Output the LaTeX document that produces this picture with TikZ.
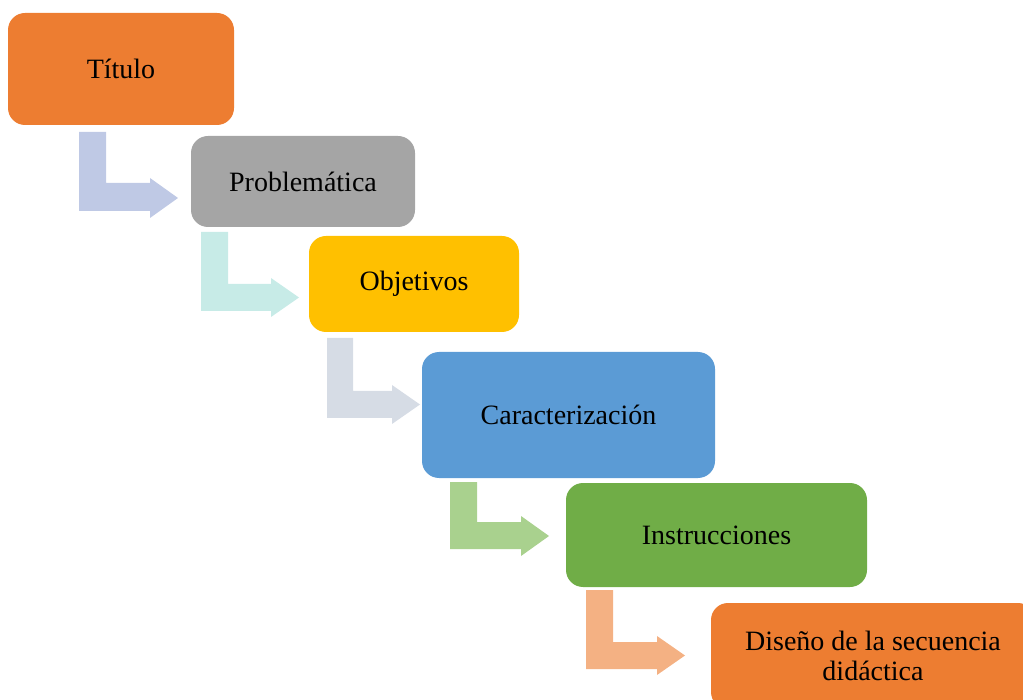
\documentclass[tikz,border=0pt]{standalone}
\usepackage{fontspec}
\setmainfont{Liberation Serif}
\definecolor{cOrange}{HTML}{ED7D31}
\definecolor{cGrey}{HTML}{A5A5A5}
\definecolor{cYellow}{HTML}{FFC000}
\definecolor{cBlue}{HTML}{5B9BD5}
\definecolor{cGreen}{HTML}{70AD47}
\definecolor{aOne}{RGB}{191,201,229}
\definecolor{aTwo}{RGB}{199,235,231}
\definecolor{aThree}{RGB}{214,220,229}
\definecolor{aFour}{RGB}{169,209,142}
\definecolor{aFive}{RGB}{244,177,131}
\tikzset{
  box/.style={rounded corners=17pt, inner sep=0pt, align=center, text=black,
    font=\fontsize{28}{30}\selectfont},
  bent/.style={draw=none},
}
% #1 colour, #2 x1, #3 x2, #4 ytop, #5 ybottom, #6 ybar, #7 xhead, #8 yheadtop, #9 yheadbottom; tip computed
\newcommand{\bentarrow}[9]{%
  \fill[#1] (#2,#4) -- (#3,#4) -- (#3,#6) -- (#7,#6) -- (#7,#8)
     -- ({#7+28},{(#8+#9)/2}) -- (#7,#9) -- (#7,#5) -- (#2,#5) -- cycle;}
\begin{document}
\begin{tikzpicture}[x=1pt,y=-1pt]
\useasboundingbox (0,0) rectangle (1023,700);
\clip (0,0) rectangle (1023,700);
\node[box, fill=cOrange, minimum width=226pt, minimum height=112pt] (titulo) at (121,69) {Título};
\node[box, fill=cGrey, minimum width=224pt, minimum height=91pt] (problem) at (303,181.5) {Problemática};
\node[box, fill=cYellow, minimum width=210pt, minimum height=96pt] (objet) at (414,284) {Objetivos};
\node[box, fill=cBlue, minimum width=293pt, minimum height=126pt] (caract) at (568.5,415) {Caracterización};
\node[box, fill=cGreen, minimum width=301pt, minimum height=104pt] (instr) at (716.5,535) {Instrucciones};
\node[box, fill=cOrange, minimum width=324pt, minimum height=106pt] (disenio) at (873,656) {Diseño de la secuencia\\didáctica};
\bentarrow{aOne}{79}{106}{132}{211}{183}{150}{178}{218}
\bentarrow{aTwo}{201}{228}{232}{311}{284}{271}{278}{317}
\bentarrow{aThree}{327}{353}{338}{418}{391}{392}{385}{424}
\bentarrow{aFour}{450}{477}{482}{549}{522}{521}{516}{556}
\bentarrow{aFive}{586}{613}{590}{669}{642}{657}{636}{675}
\end{tikzpicture}
\end{document}
